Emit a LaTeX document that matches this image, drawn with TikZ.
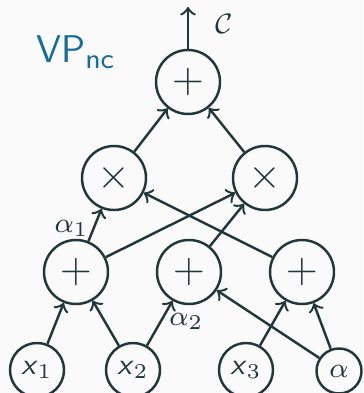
\documentclass[tikz,border=0pt]{standalone}
\usepackage{tikz}
\definecolor{ink}{HTML}{23373B}
\definecolor{vpblue}{HTML}{1A6E94}
\definecolor{paper}{HTML}{FAFAFA}
\newcommand{\xv}[1]{\textsf{\textit{x}}$_{#1}$}
\begin{document}
\begin{tikzpicture}[x=0.1mm,y=-0.1mm,>=to,line width=0.7pt,draw=ink,
  gate/.style={circle,draw=ink,text=ink,minimum size=6.4mm,inner sep=0pt,font=\fontsize{11.5}{12}\selectfont},
  leaf/.style={circle,draw=ink,text=ink,minimum size=5.4mm,inner sep=0pt,font=\fontsize{8.5}{9}\sffamily},
  lbl/.style={text=ink,font=\fontsize{8.5}{9}\selectfont}]
\fill[paper] (0,0) rectangle (363,393);
\useasboundingbox (0,0) rectangle (363,393);
\node[text=vpblue,font=\fontsize{11}{12}\sffamily] at (76,52) {VP$_{\mathsf{nc}}$};
% output gate
\node[gate] (out) at (188,82) {$+$};
\coordinate (top) at (188,7);
\draw[->,ink] (out) -- (top) node[lbl,pos=0.6,right=4pt] {$\mathcal{C}$};
% products
\node[gate] (mulL) at (114,178) {$\times$};
\node[gate] (mulR) at (265,178) {$\times$};
% sums
\node[gate] (addL) at (76,272) {$+$};
\node[gate] (addM) at (189,272) {$+$};
\node[gate] (addR) at (302,272) {$+$};
% inputs
\node[leaf] (x1) at (37,370) {\xv{1}};
\node[leaf] (x2) at (133,370) {\xv{2}};
\node[leaf] (x3) at (246,370) {\xv{3}};
\node[leaf,minimum size=4.5mm] (al) at (339,371) {$\alpha$};
\begin{scope}[->,ink]
\draw (x1) -- (addL);
\draw (x2) -- (addL);
\draw (x2) -- (addM) node[lbl,pos=0.85,right=1pt,xshift=-4.5pt,yshift=-4pt] {$\alpha_2$};
\draw (x3) -- (addR);
\draw (al) -- (addR);
\draw (al) -- (addM);
\draw (addL) -- (mulL) node[lbl,pos=0.45,left=0pt,xshift=2pt,yshift=-0.5pt] {$\alpha_1$};
\draw (addL) -- (mulR);
\draw (addM) -- (mulR);
\draw (addR) -- (mulL);
\draw (mulL) -- (out);
\draw (mulR) -- (out);
\end{scope}
\end{tikzpicture}
\end{document}
